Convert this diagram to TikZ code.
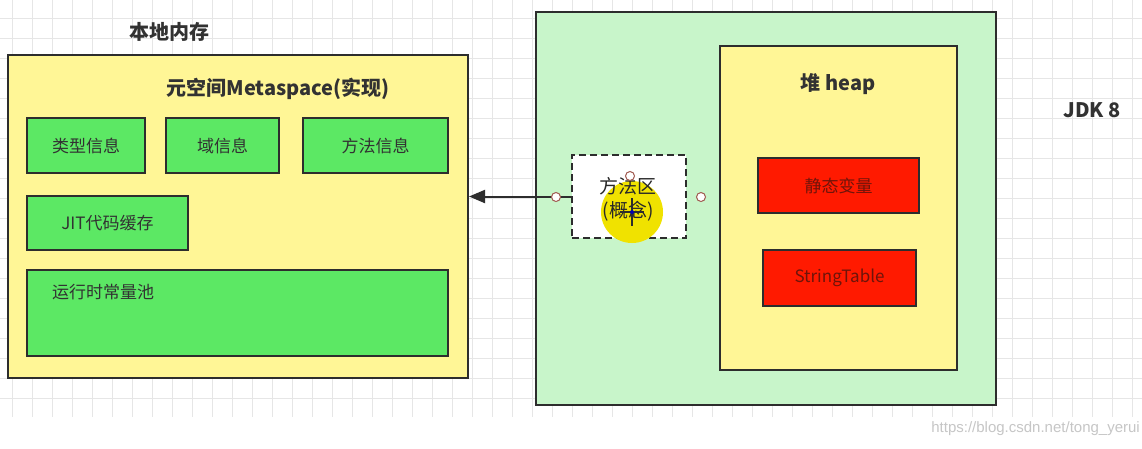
\documentclass[tikz,border=0pt]{standalone}
\usepackage{fontspec}
\setmainfont{Noto Sans CJK SC}
\newfontfamily\wmfont{Liberation Sans}
\usetikzlibrary{arrows.meta}
\definecolor{gridc}{RGB}{230,230,230}
\definecolor{boxline}{RGB}{45,45,45}
\definecolor{txt}{RGB}{50,50,50}
\definecolor{memyellow}{RGB}{255,246,150}
\definecolor{boxgreen}{RGB}{92,232,100}
\definecolor{jvmgreen}{RGB}{200,245,202}
\definecolor{boxred}{RGB}{255,26,0}
\definecolor{redtxt}{RGB}{110,20,10}
\definecolor{hilite}{RGB}{240,226,0}
\definecolor{ptc}{RGB}{160,90,80}
\tikzset{
  gridline/.style={draw=gridc, line width=1pt},
  region/.style={draw=boxline, line width=2pt, inner sep=0pt},
  greenbox/.style={draw=boxline, line width=2pt, fill=boxgreen, inner sep=0pt, text=txt, font=\fontsize{17}{20}\selectfont},
  redbox/.style={draw=boxline, line width=2pt, fill=boxred, inner sep=0pt, text=redtxt, font=\fontsize{17}{20}\selectfont},
  title/.style={text=txt, font=\fontsize{20}{24}\selectfont\bfseries, inner sep=0pt},
  cpoint/.style={circle, draw=ptc, fill=white, line width=1pt, inner sep=0pt, minimum size=9pt},
}
\begin{document}
\begin{tikzpicture}[x=1pt,y=-1pt]
\useasboundingbox (0,0) rectangle (1142,448);
\fill[white] (0,0) rectangle (1142,448);
% grid
\foreach \x in {12,32,...,1142} \draw[gridline] (\x,0) -- (\x,417);
\foreach \y in {18,38,...,417} \draw[gridline] (0,\y) -- (1142,\y);
% native memory
\node[title] (nativelabel) at (169,32) {本地内存};
\node[region, fill=memyellow, minimum width=460pt, minimum height=323pt] (meta) at (238,216.5) {};
\node[title] (metalabel) at (278,89) {元空间Metaspace(实现)};
\node[greenbox, minimum width=118pt, minimum height=55pt] (typeinfo) at (86,145.5) {类型信息};
\node[greenbox, minimum width=113pt, minimum height=55pt] (fieldinfo) at (222.5,145.5) {域信息};
\node[greenbox, minimum width=145pt, minimum height=55pt] (methodinfo) at (375.5,145.5) {方法信息};
\node[greenbox, minimum width=161pt, minimum height=54pt] (jit) at (107.5,223) {JIT代码缓存};
\node[greenbox, minimum width=421pt, minimum height=86pt] (pool) at (237.5,313) {};
\node[text=txt, font=\fontsize{17}{20}\selectfont, inner sep=0pt, anchor=west] (poollabel) at (52,292) {运行时常量池};
% JVM
\node[region, fill=jvmgreen, minimum width=460pt, minimum height=393pt] (jvm) at (766,208.5) {};
\node[region, fill=memyellow, minimum width=237pt, minimum height=324pt] (heap) at (838.5,208) {};
\node[title] (heaplabel) at (838,84) {堆 heap};
\node[redbox, minimum width=161pt, minimum height=55pt] (static) at (838.5,185.5) {静态变量};
\node[redbox, minimum width=153pt, minimum height=56pt] (stringtable) at (839.5,278) {StringTable};
\node[title] (jdk) at (1092,110) {JDK 8};
% method area (concept)
\node[draw=boxline, line width=2pt, dashed, dash pattern=on 7pt off 4pt, fill=white, minimum width=114pt, minimum height=83pt, inner sep=0pt] (methodarea) at (629,196.5) {};
\fill[hilite] (632,212) circle (31pt);
\node[text=txt!80!black, font=\fontsize{19}{24}\selectfont, inner sep=0pt, align=center] (malabel) at (628,199) {方法区\\(概念)};
\draw[boxline, line width=1.5pt] (632,198) -- (632,226) (620,212) -- (644,212);
\fill[blue!70!black] (632,212) circle (2pt);
% arrow
\draw[boxline, line width=2pt, -{Triangle[length=16pt,width=13pt]}] (methodarea.west) -- (methodarea.west -| meta.east);
\node[cpoint] (p1) at (556,197) {};
\node[cpoint] (p2) at (630,176) {};
\node[cpoint] (p3) at (701,197) {};
% watermark
\node[text=gray!45, font=\wmfont\fontsize{15}{17}\selectfont, anchor=east, inner sep=0pt] (wm) at (1140,429) {https://blog.csdn.net/tong\_yerui};
\end{tikzpicture}
\end{document}
